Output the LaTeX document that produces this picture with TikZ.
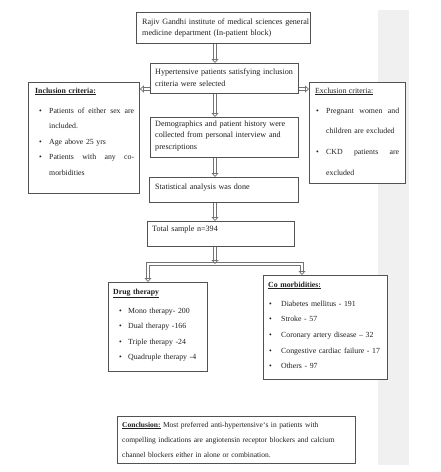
\documentclass[tikz,border=0pt]{standalone}
\usepackage{fontspec}
\setmainfont{Liberation Serif}
\usetikzlibrary{arrows.meta}
\newcommand\bl[2]{\hspace*{#1}\makebox[#2][l]{\textbullet}}
\newcommand\jline[2]{\hbox to #1{#2}}
\begin{document}
\begin{tikzpicture}[x=1pt,y=-1pt,
  box/.style={draw=black!68, fill=white, line width=0.8pt, inner sep=0pt, anchor=north west},
  txt/.style={inner sep=0pt, anchor=base west, text=black!88, text width=200pt, align=left},
  fl/.style={txt, font=\fontsize{8.1}{11.7}\selectfont},
  ls/.style={txt, font=\fontsize{7.8}{15.5}\selectfont},
  conn/.style={draw=black!55, double=white, double distance=1.6pt, line width=0.75pt},
  tip/.tip={Triangle[open,length=4pt,width=7pt]},
  harr/.style={conn, -tip}]
\useasboundingbox (0,0) rectangle (441,472);
\fill[gray!12] (378,10) rectangle (409,465);
% boxes
\node[box, minimum width=174pt, minimum height=31pt] (top) at (136,12) {};
\node[box, minimum width=148pt, minimum height=30pt] (hyp) at (150,63) {};
\node[box, minimum width=111pt, minimum height=111pt] (incl) at (28,82) {};
\node[box, minimum width=96pt, minimum height=101pt] (excl) at (309,82) {};
\node[box, minimum width=148pt, minimum height=40pt] (demo) at (150,117) {};
\node[box, minimum width=149pt, minimum height=25pt] (stat) at (149,177) {};
\node[box, minimum width=147pt, minimum height=25pt] (total) at (147,221) {};
\node[box, minimum width=99pt, minimum height=89pt] (drug) at (108,282) {};
\node[box, minimum width=124pt, minimum height=104pt] (comorb) at (263,275) {};
\node[box, minimum width=238pt, minimum height=47pt] (concl) at (117,416) {};
% texts
\node[fl, font=\fontsize{8.1}{11.5}\selectfont] (topt) at (142,24) {Rajiv Gandhi institute of medical sciences general\\medicine department (In-patient block)};
\node[fl, font=\fontsize{8.1}{12}\selectfont] (hypt) at (155,74) {Hypertensive patients satisfying inclusion\\criteria were selected};
\node[fl] (demot) at (155,126) {Demographics and patient history were\\collected from personal interview and\\prescriptions};
\node[fl] (statt) at (155,189) {Statistical analysis was done};
\node[fl] (totalt) at (152,231) {Total sample n=394};
\node[ls] (inclh) at (35,93) {\textbf{\underline{Inclusion criteria:}}};
\node[ls] (inclt) at (35,113)
  {\bl{4pt}{10pt}\jline{85pt}{Patients\hfill of\hfill either\hfill sex\hfill are}\\
   \hspace*{14pt}included.\\
   \bl{4pt}{10pt}Age above 25 yrs\\
   \bl{4pt}{10pt}\jline{85pt}{Patients\hfill with\hfill any\hfill co-}\\
   \hspace*{14pt}morbidities};
\node[ls] (exclh) at (315,93) {\underline{Exclusion criteria:}};
\node[ls, font=\fontsize{7.8}{20.7}\selectfont] (exclt) at (312,113)
  {\bl{4pt}{10pt}\jline{73pt}{Pregnant\hfill women\hfill and}\\
   \hspace*{14pt}children are excluded\\
   \bl{4pt}{10pt}\jline{73pt}{CKD\hfill patients\hfill are}\\
   \hspace*{14pt}excluded};
\node[ls] (drugh) at (113,294) {\textbf{\underline{Drug therapy}}};
\node[ls] (drugt) at (115,313)
  {\bl{4pt}{9pt}Mono therapy- 200\\
   \bl{4pt}{9pt}Dual therapy -166\\
   \bl{4pt}{9pt}Triple therapy -24\\
   \bl{4pt}{9pt}Quadruple therapy -4};
\node[ls] (comorbh) at (268,287) {\textbf{\underline{Co morbidities:}}};
\node[ls, font=\fontsize{7.8}{15.7}\selectfont] (comorbt) at (265,306)
  {\bl{4pt}{12pt}Diabetes mellitus - 191\\
   \bl{4pt}{12pt}Stroke - 57\\
   \bl{4pt}{12pt}Coronary artery disease -- 32\\
   \bl{4pt}{12pt}Congestive cardiac failure - 17\\
   \bl{4pt}{12pt}Others - 97};
\node[txt, text width=235pt, font=\fontsize{7.5}{15}\selectfont] (conclt) at (122,427) {\textbf{\underline{Conclusion:}} Most preferred anti-hypertensive`s in patients with\\compelling indications are angiotensin receptor blockers and calcium\\channel blockers either in alone or combination.};
% connector coordinates
\coordinate (ax) at (215,0);
\coordinate (ay) at (0,89);
\coordinate (bll) at (148,264);
\coordinate (bm) at (215,264);
\coordinate (brr) at (302,264);
\draw[harr] (top.south -| ax) -- (hyp.north -| ax);
\draw[harr] (hyp.west |- ay) -- (incl.east |- ay);
\draw[harr] (hyp.east |- ay) -- (excl.west |- ay);
\draw[harr] (hyp.south -| ax) -- (demo.north -| ax);
\draw[harr] (demo.south -| ax) -- (stat.north -| ax);
\draw[harr] (stat.south -| ax) -- (total.north -| ax);
\draw[conn, tip-tip] (drug.north -| bll) -- (bll) -- (brr) -- (comorb.north -| brr);
\draw[harr] (total.south -| ax) -- (bm);
\end{tikzpicture}
\end{document}
